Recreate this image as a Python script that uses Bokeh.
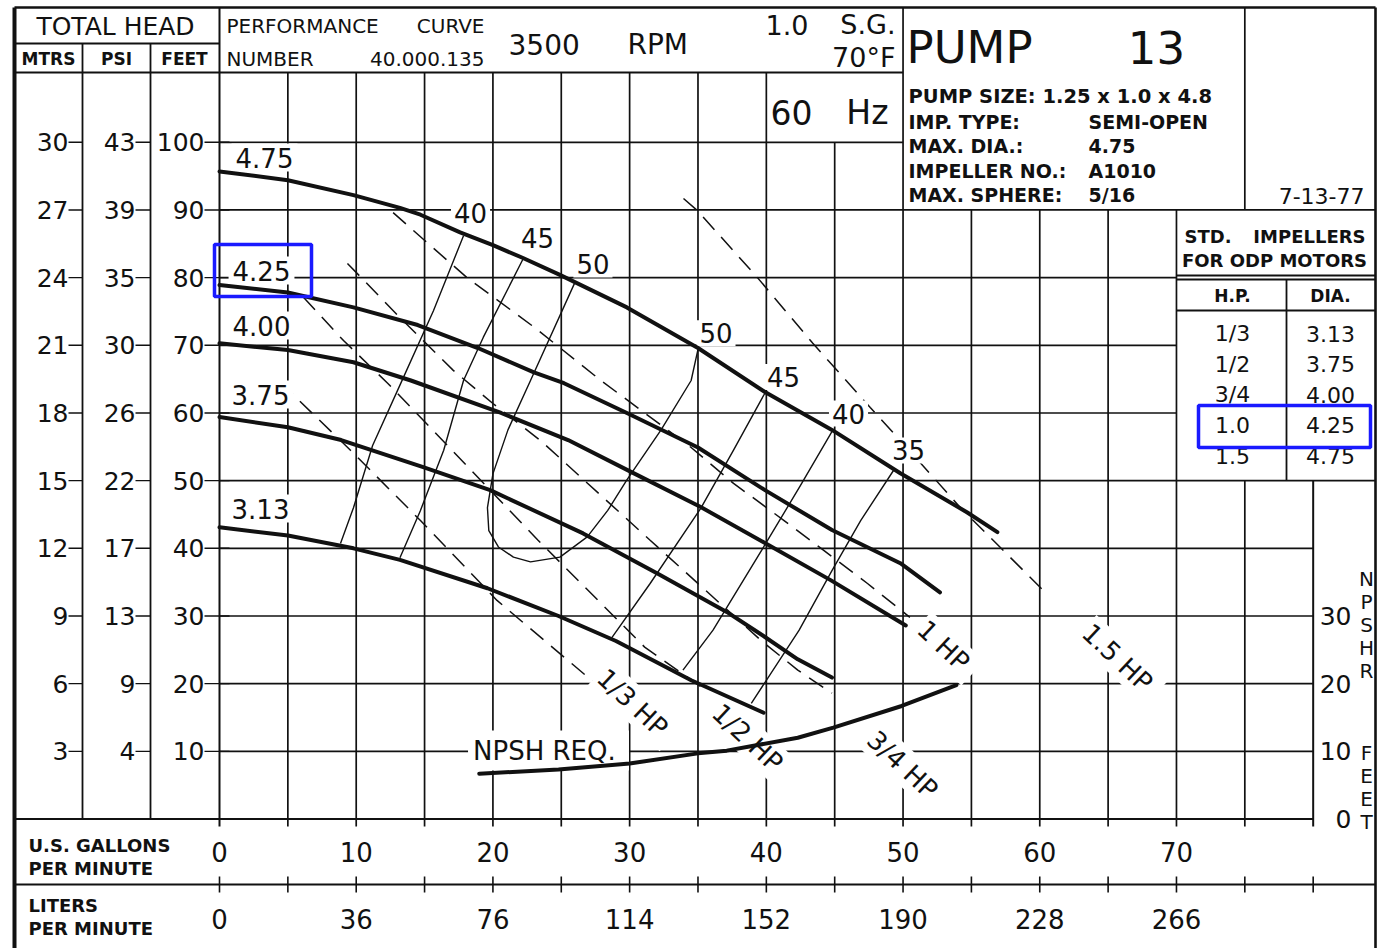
import math
from bokeh.plotting import figure
from bokeh.models import Range1d, Label, ColumnDataSource
from bokeh.embed import file_html
from bokeh.resources import INLINE

# ---------------- chart data ----------------
GPM_TICKS = [0, 10, 20, 30, 40, 50, 60, 70]
LPM_LABELS = ["0", "36", "76", "114", "152", "190", "228", "266"]
FEET_TICKS = [100, 90, 80, 70, 60, 50, 40, 30, 20, 10]
MTRS_LABELS = ["30", "27", "24", "21", "18", "15", "12", "9", "6", "3"]
PSI_LABELS = ["43", "39", "35", "30", "26", "22", "17", "13", "9", "4"]
NPSHR_TICKS = [30, 20, 10, 0]

IMP_DIAS = ["4.75", "4.25", "4.00", "3.75", "3.13"]
Q_475 = [0, 5.0, 9.8, 13.2, 14.7, 17.6, 20.0, 22.2, 24.9, 29.8, 35.0, 39.9, 44.8, 49.8, 54.7, 56.9]
H_475 = [95.7, 94.4, 92.2, 90.3, 89.3, 86.7, 84.8, 82.9, 80.4, 75.6, 69.6, 63.1, 57.5, 51.1, 45.3, 42.4]
Q_425 = [0, 5.0, 9.8, 14.5, 18.9, 23.0, 25.2, 29.8, 35.0, 39.9, 44.8, 49.8, 52.7]
H_425 = [78.9, 77.8, 75.6, 73.0, 69.6, 66.0, 64.4, 60.0, 54.9, 48.6, 42.7, 37.8, 33.5]
Q_400 = [0, 5.0, 9.8, 14.0, 20.6, 25.5, 30.1, 35.2, 39.8, 44.7, 50.2]
H_400 = [70.3, 69.3, 67.5, 64.8, 60.0, 56.0, 51.3, 46.1, 40.9, 35.3, 28.6]
Q_375 = [0, 5.0, 8.9, 14.9, 19.8, 26.6, 32.0, 37.1, 39.6, 42.3, 44.8]
H_375 = [59.4, 57.9, 56.0, 52.0, 48.6, 42.2, 36.3, 30.6, 27.3, 23.6, 20.9]
Q_313 = [0, 5.0, 9.8, 13.2, 19.6, 24.8, 29.0, 34.5, 39.8]
H_313 = [43.1, 41.9, 40.0, 38.3, 34.1, 30.0, 26.3, 20.5, 15.7]

# efficiency contours (%)
EFF_VALUES = ["40", "45", "50", "50", "45", "40", "35"]
E40L_Q = [17.85, 15.65, 13.24, 11.2, 9.8, 8.85]
E40L_H = [86.2, 75.1, 64.3, 55.2, 46.0, 40.7]
E45L_Q = [22.24, 19.3, 17.85, 16.4, 14.7, 13.2]
E45L_H = [82.9, 71.2, 64.8, 54.5, 45.6, 38.6]
E50_Q = [26.0, 22.75, 21.1, 20.0, 19.6, 19.7, 20.4, 21.5, 22.75, 24.9, 26.9, 28.4, 29.8, 32.3, 34.5, 35.0]
E50_H = [79.3, 64.8, 57.5, 51.0, 46.0, 42.6, 40.2, 38.7, 38.0, 38.7, 41.7, 45.6, 50.1, 57.5, 64.8, 69.4]
E45R_Q = [39.94, 37.6, 35.2, 31.5, 28.7]
E45R_H = [63.1, 54.5, 45.9, 34.8, 26.8]
E40R_Q = [44.84, 42.5, 40.1, 36.1, 33.9]
E40R_H = [57.4, 49.3, 41.2, 27.9, 22.0]
E35R_Q = [49.3, 46.9, 44.8, 42.4, 38.9]
E35R_H = [51.5, 44.1, 36.7, 27.9, 17.1]

# motor power lines
HP_LABELS = ["1/3  HP", "1/2  HP", "3/4  HP", "1  HP", "1.5  HP"]
HP13_Q = [4.46, 9.58, 14.7, 20.3, 27.5]
HP13_H = [64.5, 54.5, 44.1, 32.3, 20.0]
HP12_Q = [6.14, 9.07, 12.3, 15.4, 23.3, 31.1, 35.6]
HP12_H = [77.1, 70.7, 64.4, 57.9, 41.2, 25.4, 19.0]
HP34_Q = [9.36, 13.2, 17.1, 20.0, 23.5, 31.5, 39.6, 42.3, 44.8]
HP34_H = [82.1, 74.1, 66.3, 61.4, 55.9, 41.2, 26.4, 22.0, 18.6]
HP1_Q = [12.7, 18.1, 23.0, 27.9, 34.5, 37.6, 41.3, 44.2, 47.4, 50.5]
HP1_H = [89.6, 80.0, 72.7, 64.8, 54.9, 49.6, 44.1, 39.7, 34.8, 29.8]
HP15_Q = [33.94, 34.96, 39.35, 43.4, 47.6, 50.0, 54.2, 60.3]
HP15_H = [91.7, 89.9, 80.0, 70.3, 60.8, 55.5, 46.0, 33.7]

# NPSH required
NPSH_Q = [19.0, 24.8, 30.0, 35.0, 37.1, 42.3, 44.9, 49.9, 53.9]
NPSH_H = [6.7, 7.3, 8.2, 9.7, 10.1, 12.0, 13.5, 16.7, 19.8]

STD_HP = ["1/3", "1/2", "3/4", "1.0", "1.5"]
STD_DIA = ["3.13", "3.75", "4.00", "4.25", "4.75"]

PUMP_INFO_KEYS = ["IMP. TYPE:", "MAX. DIA.:", "IMPELLER NO.:", "MAX. SPHERE:"]
PUMP_INFO_VALS = ["SEMI-OPEN", "4.75", "A1010", "5/16"]

# ---------------- layout helpers ----------------
W, H = 1378, 948
PX0, PXS = 219.0, 13.671   # px of 0 gpm, px per gpm
PY0, PYS = 818.5, 6.767    # px of 0 ft, px per ft


def X(px):
    return (px - PX0) / PXS


def Y(py):
    return (PY0 - py) / PYS


p = figure(width=W, height=H, output_backend="svg", toolbar_location=None,
           x_range=Range1d(X(0), X(W)), y_range=Range1d(Y(H), Y(0)),
           x_axis_location=None, y_axis_location=None,
           min_border=0, outline_line_color=None)
p.grid.visible = False
p.background_fill_color = "white"

FONT = "DejaVu Sans"
INK = "#111111"

segs = dict(x0=[], y0=[], x1=[], y1=[], w=[])


def seg(x0, y0, x1, y1, w=1.6):
    segs["x0"].append(x0); segs["y0"].append(y0)
    segs["x1"].append(x1); segs["y1"].append(y1)
    segs["w"].append(w)


def txt(x, y, s, size, align="center", bold=False, bg=False, angle=0.0, pad=2):
    kw = {}
    if bg:
        kw.update(background_fill_color="white", background_fill_alpha=1.0, padding=pad)
    p.add_layout(Label(x=x, y=y, text=s, text_font=FONT, text_font_size=f"{size}px",
                       text_align=align, text_baseline="middle", text_color=INK,
                       text_font_style="bold" if bold else "normal",
                       angle=angle, **kw))


L, R, T = 14, 1375, 7
xL, xR, yT, yB = X(L), X(R), Y(T), Y(H)

# outer frame
seg(xL, yT, xR, yT, 2.6)
seg(xL, yT, xL, yB, 4.0)
seg(xR, yT, xR, yB, 2.6)
# header rows
seg(xL, Y(43), 0, Y(43), 2.0)
seg(xL, Y(72), 50, Y(72), 2.0)
seg(X(82), Y(43), X(82), 0, 1.8)
seg(X(150), Y(43), X(150), 0, 1.8)
# flow rows
seg(xL, Y(884), xR, Y(884), 2.0)

# vertical grid
for q in range(0, 85, 5):
    if q == 0 or q == 50:
        top = yT
    elif q <= 40:
        top = Y(72)
    elif q == 45:
        top = 100
    elif q <= 70:
        top = 90
    else:
        top = 50
    seg(q, Y(826), q, top, 1.7 if q not in (0, 80) else 2.0)
    if q == 75:
        seg(q, 90, q, yT, 1.7)
    seg(q, Y(876), q, Y(892), 1.6)

# horizontal grid
for f in FEET_TICKS + [0]:
    if f == 100:
        x0, x1 = 0, 50
    elif f in (90, 50):
        x0, x1 = 0, xR
    elif f > 50:
        x0, x1 = 0, 70
    else:
        x0, x1 = 0, 80
    if f == 0:
        x0 = xL
    seg(x0, f, x1, f, 1.7 if f else 2.0)

# head scale ticks
for f in FEET_TICKS:
    seg(X(68), f, X(82), f, 1.4)
    seg(X(135), f, X(150), f, 1.4)
    seg(X(204), f, X(229), f, 1.4)

# impeller table
seg(70, Y(275), xR, Y(275), 1.8)
seg(70, Y(279), xR, Y(279), 1.8)
seg(70, Y(310), xR, Y(310), 1.8)
seg(X(1286), Y(279), X(1286), 50, 1.8)

p.segment("x0", "y0", "x1", "y1", source=ColumnDataSource(segs),
          line_width="w", line_color=INK)

# efficiency contours (thin)
for qq, hh in [(E40L_Q, E40L_H), (E45L_Q, E45L_H), (E50_Q, E50_H),
               (E45R_Q, E45R_H), (E40R_Q, E40R_H), (E35R_Q, E35R_H)]:
    p.line(qq, hh, line_color=INK, line_width=1.4, line_join="round")

# power lines (dashed)
HP_LINES = [(HP13_Q, HP13_H), (HP12_Q, HP12_H), (HP34_Q, HP34_H),
            (HP1_Q, HP1_H), (HP15_Q, HP15_H)]
for qq, hh in HP_LINES:
    p.line(qq, hh, line_color=INK, line_width=1.5, line_dash="17 10")

# head-capacity curves (thick), drawn over labels
CURVES = [(Q_475, H_475), (Q_425, H_425), (Q_400, H_400), (Q_375, H_375), (Q_313, H_313)]
for qq, hh in CURVES:
    p.line(qq, hh, line_color=INK, line_width=4.0, line_join="round", line_cap="round",
           level="overlay")
p.line(NPSH_Q, NPSH_H, line_color=INK, line_width=4.0, line_cap="round", level="overlay")

# ---------------- texts ----------------
txt(X(115), Y(26), "TOTAL HEAD", 25)
for cx, s in [(48, "MTRS"), (116, "PSI"), (184, "FEET")]:
    txt(X(cx), Y(58), s, 17, bold=True)
txt(X(226), Y(25), "PERFORMANCE", 20, "left")
txt(X(484), Y(25), "CURVE", 20, "right")
txt(X(226), Y(58), "NUMBER", 20, "left")
txt(X(484), Y(58), "40.000.135", 20, "right")
txt(X(508), Y(44), "3500", 28, "left")
txt(X(627), Y(44), "RPM", 28, "left")
txt(X(765), Y(24), "1.0", 27, "left")
txt(X(895), Y(24), "S.G.", 27, "right")
txt(X(895), Y(57), "70°F", 27, "right")
txt(X(770), Y(112), "60", 33, "left")
txt(X(888), Y(112), "Hz", 33, "right")
txt(X(906), Y(47), "PUMP", 45, "left")
txt(X(1156), Y(47), "13", 45)
txt(X(908), Y(96), "PUMP SIZE: 1.25 x 1.0 x 4.8", 19.5, "left", bold=True)
for i, (k, v) in enumerate(zip(PUMP_INFO_KEYS, PUMP_INFO_VALS)):
    yy = Y(121 + i * 24.5)
    txt(X(908), yy, k, 19, "left", bold=True)
    txt(X(1088), yy, v, 19, "left", bold=True)
txt(X(1364), Y(195), "7-13-77", 22, "right")

txt(X(1184), Y(236), "STD.", 18, "left", bold=True)
txt(X(1365), Y(236), "IMPELLERS", 18, "right", bold=True)
txt(X(1274), Y(260), "FOR ODP MOTORS", 18, bold=True)
txt(X(1232), Y(295), "H.P.", 17, bold=True)
txt(X(1330), Y(295), "DIA.", 17, bold=True)
for i, (hp, d) in enumerate(zip(STD_HP, STD_DIA)):
    yy = Y(333 + i * 30.5)
    txt(X(1232), yy, hp, 22)
    txt(X(1330), yy, d, 22)

# head scales
for f, m, ps in zip(FEET_TICKS, MTRS_LABELS, PSI_LABELS):
    txt(X(68), f, m, 25, "right")
    txt(X(135), f, ps, 25, "right")
    txt(X(204), f, str(f), 25, "right")

# flow scales
for q, lpm in zip(GPM_TICKS, LPM_LABELS):
    txt(q, Y(851), str(q), 26)
    txt(q, Y(918), lpm, 26)
txt(X(28), Y(845), "U.S.  GALLONS", 18, "left", bold=True)
txt(X(28), Y(868), "PER  MINUTE", 18, "left", bold=True)
txt(X(28), Y(905), "LITERS", 18, "left", bold=True)
txt(X(28), Y(928), "PER  MINUTE", 18, "left", bold=True)

# NPSHR scale
for v in NPSHR_TICKS:
    txt(X(1351), v, str(v), 25, "right")
for ch, py in zip("NPSHR", [578, 601, 624, 647, 670]):
    txt(X(1366), Y(py), ch, 20)
for ch, py in zip("FEET", [752, 775, 798, 821]):
    txt(X(1366), Y(py), ch, 20)

# impeller diameter labels
for s, (cx, cy) in zip(IMP_DIAS, [(264, 157), (261, 270), (261, 325), (260, 394), (260, 508)]):
    txt(X(cx), Y(cy), s, 26, bg=True, pad=4)

# efficiency labels next to the top of each contour
EFF_TOPS = [(E40L_Q[0], E40L_H[0]), (E45L_Q[0], E45L_H[0]), (E50_Q[0], E50_H[0]),
            (E50_Q[-1], E50_H[-1]), (E45R_Q[0], E45R_H[0]), (E40R_Q[0], E40R_H[0]),
            (E35R_Q[0], E35R_H[0])]
EFF_OFFS = [(7, 23), (14, 20), (18, 18), (18, 16), (18, 15), (16, 17), (15, 20)]
for s, (q0, h0), (dx, dy) in zip(EFF_VALUES, EFF_TOPS, EFF_OFFS):
    txt(q0 + dx / PXS, h0 + dy / PYS, s, 26, bg=True, pad=3)

# power labels
ang = -math.radians(43)
for s, (cx, cy) in zip(HP_LABELS, [(635, 705), (750, 740), (905, 767), (946, 648), (1120, 660)]):
    txt(X(cx), Y(cy), s, 26, bg=True, angle=ang, pad=2)

txt(X(548), Y(750), "NPSH  REQ.", 26, bg=True, pad=5)

# highlight boxes
p.quad(left=[X(214), X(1198)], right=[X(311), X(1370)],
       top=[Y(244), Y(405)], bottom=[Y(296), Y(447)],
       fill_color=None, line_color="#1a1aff", line_width=3.5, level="overlay")

open("out.html", "w").write(file_html(p, INLINE))
